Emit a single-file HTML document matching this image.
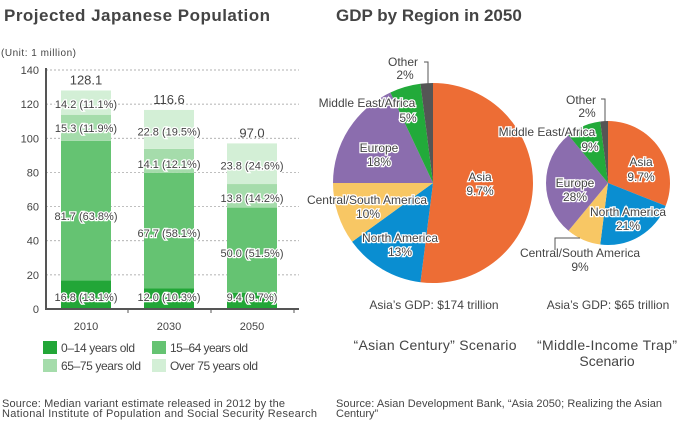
<!DOCTYPE html>
<html><head><meta charset="utf-8"><style>
body{margin:0;background:#fff;font-family:"Liberation Sans",sans-serif;}
svg text{font-family:"Liberation Sans",sans-serif;}
</style></head><body>
<svg id="s" width="680" height="420" viewBox="0 0 680 420" xmlns="http://www.w3.org/2000/svg">
<text x="4" y="21" font-size="17" font-weight="bold" fill="#444" textLength="266">Projected Japanese Population</text>
<text x="336" y="21" font-size="17" font-weight="bold" fill="#444">GDP by Region in 2050</text>
<text x="1" y="56" font-size="10" fill="#444" textLength="75">(Unit: 1 million)</text>
<g id="bars"></g>
<g id="pies"></g>
<g>
<rect x="43" y="341" width="14" height="13" fill="#22a637"/>
<text x="61" y="352" font-size="12" fill="#444" textLength="74">0–14 years old</text>
<rect x="152" y="341" width="14" height="13" fill="#65c372"/>
<text x="170" y="352" font-size="12" fill="#444" textLength="78">15–64 years old</text>
<rect x="43" y="359" width="14" height="13" fill="#a5dcab"/>
<text x="61" y="370" font-size="12" fill="#444" textLength="80">65–75 years old</text>
<rect x="152" y="359" width="14" height="13" fill="#d3efd6"/>
<text x="170" y="370" font-size="12" fill="#444" textLength="88">Over 75 years old</text>
</g>
<text x="435" y="350" font-size="14" fill="#444" text-anchor="middle" textLength="163">“Asian Century” Scenario</text>
<text x="607" y="350" font-size="14" fill="#444" text-anchor="middle" textLength="140">“Middle-Income Trap”</text>
<text x="607" y="366" font-size="14" fill="#444" text-anchor="middle">Scenario</text>
<text x="2" y="407" font-size="11" fill="#444" textLength="283">Source: Median variant estimate released in 2012 by the</text>
<text x="2" y="417" font-size="11" fill="#444" textLength="315">National Institute of Population and Social Security Research</text>
<text x="336" y="407" font-size="11" fill="#444" textLength="326">Source: Asian Development Bank, “Asia 2050; Realizing the Asian</text>
<text x="336" y="417" font-size="11" fill="#444">Century”</text>
</svg>
<script>
const years=["2010","2030","2050"];
const young=[16.8,12.0,9.4];
const working=[81.7,67.7,50.0];
const old1=[15.3,14.1,13.8];
const old2=[14.2,22.8,23.8];
const youngPct=["13.1","10.3","9.7"];
const workingPct=["63.8","58.1","51.5"];
const old1Pct=["11.9","12.1","14.2"];
const old2Pct=["11.1","19.5","24.6"];
const totals=["128.1","116.6","97.0"];
const yTicks=[0,20,40,60,80,100,120,140];

const regions=["Asia","North America","Central/South America","Europe","Middle East/Africa","Other"];
const shareA=[52,13,10,18,5,2];
const shareB=[31,21,9,28,9,2];
const labelsA=[["Asia","9.7%"],["North America","13%"],["Central/South America","10%"],["Europe","18%"],["Middle East/Africa","5%"],["Other","2%"]];
const labelsB=[["Asia","9.7%"],["North America","21%"],["Central/South America","9%"],["Europe","28%"],["Middle East/Africa","9%"],["Other","2%"]];

const NS="http://www.w3.org/2000/svg";
function mk(p,t,a){const e=document.createElementNS(NS,t);for(const k in a)e.setAttribute(k,a[k]);p.appendChild(e);return e;}
const y0=309,pxu=239/140;
function Y(v){return y0-v*pxu;}
function X(i){return 61+i*83;}
const bars=document.getElementById('bars');
yTicks.forEach(t=>{
  if(t>0){const l=mk(bars,'line',{x1:46,x2:299,y1:Y(t),y2:Y(t),stroke:'#999','stroke-dasharray':'2,2','stroke-width':0.7});
  
  }
  const tx=mk(bars,'text',{x:39,y:Y(t)+4,'font-size':11,fill:'#444','text-anchor':'end'});tx.textContent=t;
  
  
});
const cols=['#22a637','#65c372','#a5dcab','#d3efd6'];
years.forEach((yr,i)=>{
  const vals=[young[i],working[i],old1[i],old2[i]];
  const pcts=[youngPct[i],workingPct[i],old1Pct[i],old2Pct[i]];
  let c=0;
  vals.forEach((v,j)=>{
    const r=mk(bars,'rect',{x:X(i),y:Y(c+v),width:50,height:v*pxu,fill:cols[j]});
    
    
    c+=v;
  });
  const b1=young[i], b2=b1+working[i], b3=b2+old1[i];
  const lyF=[y0-12, Y(b1+working[i]*(i==0?0.46:i==1?0.48:0.47)), Y(b2+(i==0?7.5:i==1?5:3)), Y(b3+(i==0?7:i==1?10:11))];
  lyF[2]=Y(i==0?106:i==1?85:65); lyF[3]=Y(i==0?120:i==1?104:84);
  vals.forEach((v,j)=>{
    const t=mk(bars,'text',{x:X(i)+25,y:lyF[j]+4,'font-size':11,fill:'#444','text-anchor':'middle',stroke:'#fff','stroke-width':2.5,'paint-order':'stroke'});
    t.textContent=v.toFixed(1)+' ('+pcts[j]+'%)';
    
    
  });
  const tt=mk(bars,'text',{x:X(i)+25,y:Y(c)-6,'font-size':13,fill:'#444','text-anchor':'middle'});tt.textContent=totals[i];
  
  
  const xl=mk(bars,'text',{x:X(i)+25,y:330,'font-size':11,fill:'#444','text-anchor':'middle'});xl.textContent=yr;
  
  
  const tk=mk(bars,'line',{x1:X(i)+67,x2:X(i)+67,y1:y0,y2:y0+4,stroke:'#555'});
  
  
});
let ax=mk(bars,'path',{d:'M46 68 V'+y0+' H299',stroke:'#555','stroke-width':2,fill:'none'});



const pcol=['#ed6d35','#0a8ed1','#f8c764','#8b6dae','#22aa3a','#555555'];
const pies=document.getElementById('pies');
function pie(cx,cy,r,shares,labels,lpos,name){
  const tot=shares.reduce((a,b)=>a+b,0);let a=0;
  shares.forEach((s,i)=>{
    const a0=a/tot*2*Math.PI,a1=(a+s)/tot*2*Math.PI;a+=s;
    const x0=cx+r*Math.sin(a0),y0p=cy-r*Math.cos(a0),x1=cx+r*Math.sin(a1),y1=cy-r*Math.cos(a1);
    const p=mk(pies,'path',{d:`M${cx} ${cy} L${x0} ${y0p} A${r} ${r} 0 ${a1-a0>Math.PI?1:0} 1 ${x1} ${y1} Z`,fill:pcol[i]});
    
    
  });
  labels.forEach((l,i)=>{
    const pos=lpos[i];
    l.forEach((ln,k)=>{
      const t=mk(pies,'text',{x:pos[k*2],y:pos[k*2+1]+4,'font-size':12,fill:'#444','text-anchor':'middle',stroke:'#fff','stroke-width':2.5,'paint-order':'stroke'});
      t.textContent=ln;
      
      
    });
  });
}
pie(433,183,100,shareA,labelsA,[[480,177,480,191],[400,238,400,252],[367,200,368,214],[379,148,379,162],[367,103,408,118],[403,62,405,75]],'pie-asian-century');
pie(608,183,62,shareB,labelsB,[[641,162,641,177],[628,212,628,226],[580,253,580,267],[575,183,575,197],[547,132,590,147],[581,100,587,113]],'pie-middle-income');
let l1=mk(pies,'path',{d:'M424 62 H428 V84',stroke:'#555',fill:'none'});
let l2=mk(pies,'path',{d:'M601 99 H605 V122',stroke:'#555',fill:'none'});
let l3=mk(pies,'path',{d:'M555 250 V238 H580',stroke:'#555',fill:'none'});
[[434,309,"Asia’s GDP: $174 trillion"],[608,309,"Asia’s GDP: $65 trillion"]].forEach(([x,y,s])=>{
  const t=mk(pies,'text',{x:x,y:y,'font-size':12,fill:'#444','text-anchor':'middle'});t.textContent=s;
  
  
});
</script>
</body></html>
